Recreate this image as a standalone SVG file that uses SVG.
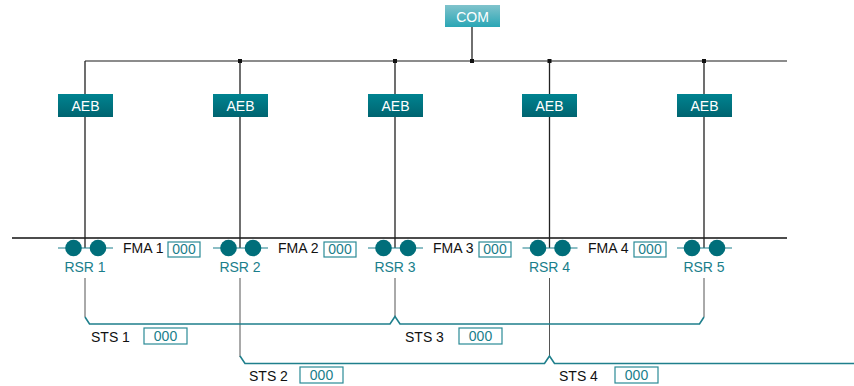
<svg xmlns="http://www.w3.org/2000/svg" width="854" height="386" viewBox="0 0 854 386">
<defs>
<linearGradient id="gCom" x1="0" y1="0" x2="0" y2="1"><stop offset="0" stop-color="#80c3cc"/><stop offset="1" stop-color="#2aa6b5"/></linearGradient>
<linearGradient id="gAeb" x1="0" y1="0" x2="0" y2="1"><stop offset="0" stop-color="#008390"/><stop offset="1" stop-color="#006470"/></linearGradient>
</defs>
<style>
text{font-family:"Liberation Sans",Arial,sans-serif;font-size:14px}
.bt{fill:#fff;text-anchor:middle}
.rsr{fill:#1a7e8b;text-anchor:middle}
.lbl{fill:#111}
.val{fill:#1a7e8b;text-anchor:middle}
.vb{fill:#fff;stroke:#2a8a96;stroke-width:1.2}
.wire{stroke:#222;stroke-width:1.3;fill:none}
.bus{stroke:#666;stroke-width:1.6;fill:none}
.main{stroke:#111;stroke-width:1.3;fill:none}
.drop{stroke:#555;stroke-width:1;fill:none}
.sts{stroke:#1f7f8c;stroke-width:1.6;fill:none}
.stub{stroke:#1a7e8b;stroke-width:1.2}
.ball{fill:#006e7a}
</style>
<g id="connectors">
<line class="bus" x1="85" y1="61" x2="787" y2="61"/>
<line class="wire" x1="472" y1="27" x2="472" y2="61"/>
<line class="main" x1="12" y1="238" x2="787" y2="238"/>
<path class="wire" d="M85,61V248M240,61V248M395,61V248M549.5,61V248M704,61V248"/>
<g fill="#111"><rect x="238" y="59" width="4" height="4"/><rect x="393" y="59" width="4" height="4"/><rect x="470" y="59" width="4" height="4"/><rect x="547.5" y="59" width="4" height="4"/><rect x="702" y="59" width="4" height="4"/></g>
<path class="drop" d="M85,278V317M395,278V317M704,278V317M240,278V357M549.5,278V356"/>
<path class="sts" d="M85,317L89.5,324H390L395,316.5L400,324H699.5L704,317"/>
<path class="sts" d="M240,356L245,363.5H544.5L549.5,356L554.5,363.5H854"/>
</g>
<g id="com"><rect x="445" y="5" width="55" height="22" fill="url(#gCom)"/><text class="bt" x="472.5" y="21.5">COM</text></g>
<g id="aeb1"><rect x="58" y="94" width="55" height="23" fill="url(#gAeb)"/><text class="bt" x="85.5" y="110.5">AEB</text></g>
<g id="aeb2"><rect x="213" y="94" width="55" height="23" fill="url(#gAeb)"/><text class="bt" x="240.5" y="110.5">AEB</text></g>
<g id="aeb3"><rect x="368" y="94" width="55" height="23" fill="url(#gAeb)"/><text class="bt" x="395.5" y="110.5">AEB</text></g>
<g id="aeb4"><rect x="522" y="94" width="55" height="23" fill="url(#gAeb)"/><text class="bt" x="549.5" y="110.5">AEB</text></g>
<g id="aeb5"><rect x="677" y="94" width="55" height="23" fill="url(#gAeb)"/><text class="bt" x="704.5" y="110.5">AEB</text></g>
<g id="rsr1"><line class="stub" x1="58" y1="248" x2="113" y2="248"/><circle class="ball" cx="73.5" cy="248" r="8.3"/><circle class="ball" cx="98" cy="248" r="8.3"/><text class="rsr" x="85" y="272">RSR 1</text></g>
<g id="rsr2"><line class="stub" x1="213" y1="248" x2="268" y2="248"/><circle class="ball" cx="228.5" cy="248" r="8.3"/><circle class="ball" cx="253" cy="248" r="8.3"/><text class="rsr" x="240" y="272">RSR 2</text></g>
<g id="rsr3"><line class="stub" x1="368" y1="248" x2="423" y2="248"/><circle class="ball" cx="383.5" cy="248" r="8.3"/><circle class="ball" cx="408" cy="248" r="8.3"/><text class="rsr" x="395" y="272">RSR 3</text></g>
<g id="rsr4"><line class="stub" x1="522.5" y1="248" x2="577.5" y2="248"/><circle class="ball" cx="538" cy="248" r="8.3"/><circle class="ball" cx="562.5" cy="248" r="8.3"/><text class="rsr" x="549.5" y="272">RSR 4</text></g>
<g id="rsr5"><line class="stub" x1="677" y1="248" x2="732" y2="248"/><circle class="ball" cx="692" cy="248" r="8.3"/><circle class="ball" cx="717" cy="248" r="8.3"/><text class="rsr" x="704" y="272">RSR 5</text></g>
<g id="fma1"><text class="lbl" x="123" y="253">FMA 1</text><rect class="vb" x="168" y="242" width="32" height="15"/><text class="val" x="184" y="254">000</text></g>
<g id="fma2"><text class="lbl" x="278" y="253">FMA 2</text><rect class="vb" x="324" y="242" width="32" height="15"/><text class="val" x="340" y="254">000</text></g>
<g id="fma3"><text class="lbl" x="433" y="253">FMA 3</text><rect class="vb" x="479" y="242" width="32" height="15"/><text class="val" x="495" y="254">000</text></g>
<g id="fma4"><text class="lbl" x="588" y="253">FMA 4</text><rect class="vb" x="634" y="242" width="32" height="15"/><text class="val" x="650" y="254">000</text></g>
<g id="sts1"><text class="lbl" x="91" y="342">STS 1</text><rect class="vb" x="144" y="328" width="43" height="16"/><text class="val" x="165.5" y="341">000</text></g>
<g id="sts3"><text class="lbl" x="405" y="342">STS 3</text><rect class="vb" x="459" y="328" width="43" height="16"/><text class="val" x="480.5" y="341">000</text></g>
<g id="sts2"><text class="lbl" x="249" y="381">STS 2</text><rect class="vb" x="300" y="367" width="43" height="16"/><text class="val" x="321.5" y="380">000</text></g>
<g id="sts4"><text class="lbl" x="559" y="381">STS 4</text><rect class="vb" x="615" y="367" width="43" height="16"/><text class="val" x="636.5" y="380">000</text></g>
</svg>
